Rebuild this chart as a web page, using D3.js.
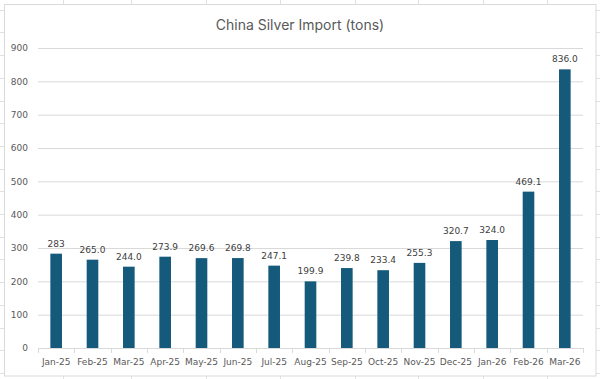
<!DOCTYPE html>
<html><head><meta charset="utf-8">
<script src="https://cdn.jsdelivr.net/npm/d3@7"></script>
<style>html,body{margin:0;padding:0;background:#fff;}svg{display:block;}</style>
</head><body>
<svg id="chart" width="600" height="379"></svg>
<script>
const categories = ["Jan-25","Feb-25","Mar-25","Apr-25","May-25","Jun-25","Jul-25","Aug-25","Sep-25","Oct-25","Nov-25","Dec-25","Jan-26","Feb-26","Mar-26"];
const values = [283, 265.0, 244.0, 273.9, 269.6, 269.8, 247.1, 199.9, 239.8, 233.4, 255.3, 320.7, 324.0, 469.1, 836.0];
const valueLabels = ["283","265.0","244.0","273.9","269.6","269.8","247.1","199.9","239.8","233.4","255.3","320.7","324.0","469.1","836.0"];
const yTicks = [0,100,200,300,400,500,600,700,800,900];
const title = "China Silver Import (tons)";

// spreadsheet cell grid behind the chart (decoration)
const sheetCols = [63,131,206,280,355,418,483,547];
const sheetRows = d3.range(-13, 379, 22.7);

const svg = d3.select("#chart");
const W = 600, H = 379;
const font = "'DejaVu Sans', Verdana, sans-serif";

const bg = svg.append("g");
bg.selectAll("line.c").data(sheetCols).join("line")
  .attr("x1", d => d + 0.5).attr("x2", d => d + 0.5).attr("y1", 0).attr("y2", H)
  .attr("stroke", "#e1e1e1").attr("stroke-width", 1);
bg.selectAll("line.r").data(sheetRows).join("line")
  .attr("x1", 0).attr("x2", W).attr("y1", d => Math.round(d) + 0.5).attr("y2", d => Math.round(d) + 0.5)
  .attr("stroke", "#e1e1e1").attr("stroke-width", 1);

// chart area
svg.append("rect").attr("x", 4.5).attr("y", 4.5).attr("width", 591.5).attr("height", 371.5)
  .attr("fill", "#fff").attr("stroke", "#d9d9d9").attr("stroke-width", 1);

const plot = {left: 38, right: 583, top: 48, bottom: 348};

const x = d3.scaleBand().domain(categories).range([plot.left, plot.right]).paddingInner(0.68).paddingOuter(0.34);
const y = d3.scaleLinear().domain([0, 900]).range([plot.bottom, plot.top]);

// title
svg.append("text").attr("x", 300).attr("y", 30).attr("text-anchor", "middle")
  .attr("font-family", "Inter, 'Open Sans', sans-serif").attr("font-size", 14).attr("fill", "#595959")
  .text(title);

// gridlines
const yAxis = d3.axisLeft(y).tickValues(yTicks).tickSize(-(plot.right - plot.left)).tickPadding(10).tickFormat(d3.format("d"));
const gy = svg.append("g").attr("transform", `translate(${plot.left},0)`).call(yAxis);
gy.select(".domain").remove();
gy.selectAll(".tick line").attr("stroke", "#d9d9d9").attr("stroke-width", 1)
  .filter(d => d === 0).remove();
gy.selectAll(".tick text").attr("font-family", font).attr("font-size", 9).attr("fill", "#595959");

// bars
svg.append("g").selectAll("rect").data(values).join("rect")
  .attr("x", (d, i) => x(categories[i]))
  .attr("width", x.bandwidth())
  .attr("y", d => y(d))
  .attr("height", d => y(0) - y(d))
  .attr("fill", "#155a7b");

// data labels
svg.append("g").selectAll("text").data(values).join("text")
  .attr("x", (d, i) => x(categories[i]) + x.bandwidth() / 2)
  .attr("y", d => y(d) - 7)
  .attr("text-anchor", "middle")
  .attr("font-family", font).attr("font-size", 9).attr("fill", "#404040")
  .text((d, i) => valueLabels[i]);

// x axis
const outer = d3.scalePoint().domain(d3.range(categories.length + 1)).range([plot.left, plot.right]);
const gx = svg.append("g");
gx.append("line").attr("x1", plot.left).attr("x2", plot.right).attr("y1", plot.bottom + 0.5).attr("y2", plot.bottom + 0.5)
  .attr("stroke", "#d9d9d9");
gx.selectAll("line.t").data(outer.domain()).join("line")
  .attr("x1", d => Math.round(outer(d)) + 0.5).attr("x2", d => Math.round(outer(d)) + 0.5)
  .attr("y1", plot.bottom).attr("y2", plot.bottom + 5).attr("stroke", "#d9d9d9");
gx.selectAll("text").data(categories).join("text")
  .attr("x", d => x(d) + x.bandwidth() / 2).attr("y", 365).attr("text-anchor", "middle")
  .attr("font-family", font).attr("font-size", 9).attr("fill", "#595959")
  .text(d => d);
</script>
</body></html>
